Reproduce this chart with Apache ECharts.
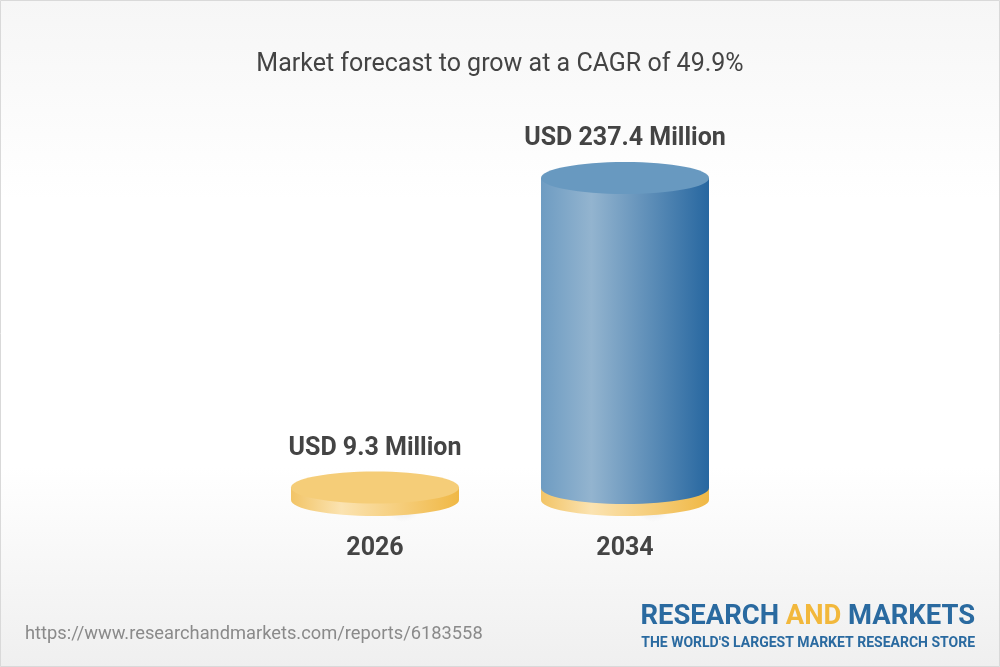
<!DOCTYPE html>
<html>
<head>
<meta charset="utf-8">
<script src="https://cdn.jsdelivr.net/npm/echarts@6/dist/echarts.min.js"></script>
<style>
	html, body {margin: 0; padding: 0;}
	#chart {width: 1000px; height: 667px;}
</style>
</head>
<body>
<div id="chart"></div>
<script>
var years = ['2026', '2034'];
var values = [9.3, 237.4];
var value_labels = ['USD 9.3 Million', 'USD 237.4 Million'];
var title_text = 'Market forecast to grow at a CAGR of 49.9%';
var source_url = 'https://www.researchandmarkets.com/reports/6183558';

function side_grad(c1, c2, c3){
	return new echarts.graphic.LinearGradient(0, 0, 1, 0, [
		{offset: 0, color: c1},
		{offset: 0.3, color: c2},
		{offset: 1, color: c3}
	]);
}

var yellow_side = ['#f2c466', '#fbe3b1', '#f0b845'];
var yellow_top = '#f5cd78';
var blue_side = ['#6e9cc2', '#93b4cf', '#2767a0'];
var blue_top = '#6899c0';

function render_cylinder(params, api){
	var idx = api.value(0);
	var top = api.coord([idx, api.value(1)]);
	var base = api.coord([idx, 0]);
	var cx = top[0], ty = top[1], by = base[1];
	var rx = 84, ry = 16;
	var base_h = 12;
	var children = [];

	// shadow on the floor
	children.push({
		type: 'ellipse',
		shape: {cx: cx + 28, cy: by + 2, rx: 100, ry: 20},
		style: {fill: new echarts.graphic.RadialGradient(0.5, 0.5, 0.5, [
			{offset: 0, color: 'rgba(0,0,0,0.10)'},
			{offset: 1, color: 'rgba(0,0,0,0)'}
		])}
	});

	var is_last = idx == values.length - 1;
	var yb_top = is_last ? by - base_h : ty;

	// yellow base (the whole disk for the first one)
	children.push({type: 'rect', shape: {x: cx - rx, y: yb_top, width: rx * 2, height: by - yb_top},
		style: {fill: side_grad(yellow_side[0], yellow_side[1], yellow_side[2])}});
	children.push({type: 'ellipse', shape: {cx: cx, cy: by, rx: rx, ry: ry},
		style: {fill: side_grad(yellow_side[0], yellow_side[1], yellow_side[2])}});

	if (is_last){
		children.push({type: 'rect', shape: {x: cx - rx, y: ty, width: rx * 2, height: yb_top - ty},
			style: {fill: side_grad(blue_side[0], blue_side[1], blue_side[2])}});
		children.push({type: 'ellipse', shape: {cx: cx, cy: yb_top, rx: rx, ry: ry},
			style: {fill: side_grad(blue_side[0], blue_side[1], blue_side[2])}});
		children.push({type: 'ellipse', shape: {cx: cx, cy: ty, rx: rx, ry: ry},
			style: {fill: blue_top}});
	}else{
		children.push({type: 'ellipse', shape: {cx: cx, cy: ty, rx: rx, ry: ry},
			style: {fill: yellow_top}});
	}

	children.push({
		type: 'text',
		style: {
			x: cx, y: ty - 39, text: value_labels[idx],
			align: 'center', verticalAlign: 'middle',
			font: 'bold 25px Roboto', fill: '#444444'
		}
	});

	return {type: 'group', children: children};
}

var myChart = echarts.init(document.getElementById('chart'));

var options = {
	animation: false,
	backgroundColor: new echarts.graphic.LinearGradient(0, 0, 0, 1, [
		{offset: 0, color: '#f6f6f6'},
		{offset: 0.3, color: '#ffffff'},
		{offset: 0.7, color: '#ffffff'},
		{offset: 1, color: '#efefef'}
	]),
	title: {
		text: title_text, left: 'center', top: 47,
		textStyle: {fontFamily: 'Roboto', fontSize: 25, fontWeight: 'normal', color: '#444444'}
	},
	grid: {left: 250, right: 250, top: 178, bottom: 167},
	xAxis: {
		type: 'category', data: years,
		axisLine: {show: false}, axisTick: {show: false},
		axisLabel: {margin: 36, fontFamily: 'Roboto', fontSize: 25, fontWeight: 'bold', color: '#444444'}
	},
	yAxis: {type: 'value', min: 0, max: 237.4, show: false, splitLine: {show: false}},
	graphic: [
		{type: 'rect', shape: {x: 0.5, y: 0.5, width: 999, height: 666}, style: {fill: 'none', stroke: '#d9d9d9', lineWidth: 1}, z: 100},
		{type: 'text', left: 25, top: 625, style: {text: source_url, font: '18.3px Roboto', fill: '#8a8a8a'}},
		{type: 'text', right: 25, top: 604, style: {
			text: '{a|RESEARCH }{b|AND}{a| MARKETS}',
			rich: {
				a: {font: 'bold 27.4px Roboto', fill: '#2a6aa0'},
				b: {font: 'bold 27.4px Roboto', fill: '#f2b83c'}
			}
		}},
		{type: 'text', right: 25, top: 636, style: {text: "THE WORLD'S LARGEST MARKET RESEARCH STORE", font: 'bold 14px Roboto', fill: '#2a6aa0'}}
	],
	series: [{
		type: 'custom',
		renderItem: render_cylinder,
		data: values.map(function(v, i){ return [i, v]; })
	}]
};

myChart.setOption(options, true);
</script>
</body>
</html>
